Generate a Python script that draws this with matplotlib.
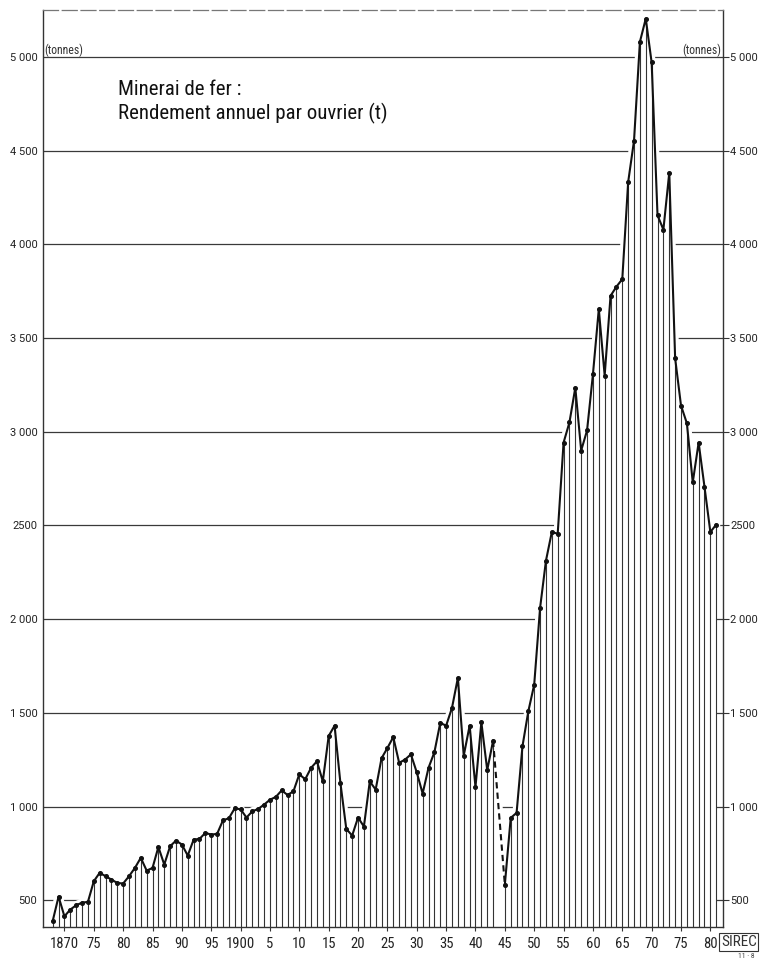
import numpy as np
import matplotlib
matplotlib.use("Agg")
import matplotlib.pyplot as plt
import matplotlib.font_manager as fm

# ---------------- data ----------------
years = list(range(1868, 1982))
values = [
    390, 520, 415, 451, 474, 488, 492, 602, 647, 629,          # 1868-1877
    611, 593, 590, 629, 673, 727, 659, 673, 785, 691,          # 1878-1887
    789, 819, 798, 739, 824, 828, 860, 851, 855, 927,          # 1888-1897
    938, 991, 986, 942, 975, 988, 1011, 1037, 1052, 1087,      # 1898-1907
    1062, 1082, 1173, 1146, 1207, 1242, 1135, 1377, 1432, 1126,  # 1908-1917
    881, 846, 942, 894, 1135, 1091, 1258, 1313, 1371, 1234,    # 1918-1927
    1251, 1279, 1183, 1070, 1207, 1290, 1447, 1432, 1527, 1687,  # 1928-1937
    1272, 1432, 1105, 1450, 1195, 1352, np.nan, 584, 940, 967,   # 1938-1947
    1322, 1509, 1651, 2060, 2312, 2465, 2456, 2942, 3050, 3235,  # 1948-1957
    2900, 3007, 3306, 3654, 3300, 3725, 3774, 3814, 4332, 4553,  # 1958-1967
    5080, 5204, 4970, 4155, 4078, 4382, 3392, 3140, 3045, 2730,  # 1968-1977
    2942, 2706, 2465, 2505,                                      # 1978-1981
]
ytick_vals = [500, 1000, 1500, 2000, 2500, 3000, 3500, 4000, 4500, 5000]
ytick_labels = ["500", "1 000", "1 500", "2 000", "2500", "3 000", "3 500", "4 000", "4 500", "5 000"]
xtick_vals = list(range(1870, 1985, 5))
xtick_labels = ["1870", "75", "80", "85", "90", "95", "1900", "5", "10", "15", "20", "25",
                "30", "35", "40", "45", "50", "55", "60", "65", "70", "75", "80"]
title_lines = ["Minerai de fer :", "Rendement annuel par ouvrier (t)"]
unit_label = "(tonnes)"

# ---------------- fonts ----------------
names = {f.name for f in fm.fontManager.ttflist}
font_kw = {}
for cand in ["Liberation Sans Narrow", "Roboto Condensed", "Open Sans Condensed", "Arial Narrow"]:
    if cand in names:
        font_kw = {"family": [cand, "DejaVu Sans"]}
        break
else:
    font_kw = {"family": ["DejaVu Sans"], "stretch": "condensed"}
plain_kw = {"family": ["Roboto", "DejaVu Sans"]}

yr = np.array(years, dtype=float)
val = np.array(values, dtype=float)
ok = ~np.isnan(val)

W, H = 763, 960
fig = plt.figure(figsize=(W / 100, H / 100), dpi=100)
fig.patch.set_facecolor("white")
L, R, T, B = 43, 722.7, 10, 927
ax = fig.add_axes([L / W, 1 - B / H, (R - L) / W, (B - T) / H])
ymin, ymax = 358, 5250
ax.set_xlim(1866.35, 1982.1)
ax.set_ylim(ymin, ymax)

# grid lines
for v in ytick_vals:
    ax.axhline(v, color="#3a3a3a", lw=0.9, zorder=1)

# hide grid under the curve
ax.fill_between(yr[ok], ymin, val[ok], color="white", zorder=2, lw=0)
ax.plot(yr[ok], val[ok], color="white", lw=6, zorder=2.5, solid_capstyle="round")

# hatching vertical lines
ax.vlines(yr[ok], ymin, val[ok], color="#333333", lw=0.8, zorder=3)

# curve: solid pieces, dashed across the gap
gap = np.where(~ok)[0]
segs = np.split(np.arange(len(yr)), gap)
for s in segs:
    s = s[ok[s]]
    ax.plot(yr[s], val[s], color="#111111", lw=1.5, zorder=4)
for g in gap:
    ax.plot([yr[g - 1], yr[g + 1]], [val[g - 1], val[g + 1]], color="#111111",
            lw=1.5, ls=(0, (3, 2)), zorder=4)
ax.plot(yr[ok], val[ok], "o", color="#111111", ms=2.6, zorder=5)

# spines
for sp in ["left", "bottom", "right"]:
    ax.spines[sp].set_color("#333333")
    ax.spines[sp].set_linewidth(1.0)
ax.spines["top"].set_color("#777777")
ax.spines["top"].set_linewidth(0.9)
ax.spines["top"].set_linestyle((0, (12, 3)))

# ticks
ax.set_xticks(xtick_vals)
ax.set_xticklabels(xtick_labels, fontsize=10.5, color="#222222", **font_kw)
ax.tick_params(axis="x", direction="out", length=3, width=0.8, pad=4, color="#333333")
ax.set_yticks(ytick_vals)
ax.set_yticklabels(ytick_labels, fontsize=8, color="#222222", **plain_kw)
ax.tick_params(axis="y", length=0, pad=4)

ax2 = ax.twinx()
ax2.set_ylim(ymin, ymax)
ax2.set_yticks(ytick_vals)
ax2.set_yticklabels(ytick_labels, fontsize=8, color="#222222", **plain_kw)
ax2.tick_params(axis="y", direction="out", length=4, width=0.8, pad=1.5, color="#333333")
for sp in ax2.spines.values():
    sp.set_visible(False)

# unit labels
ax.text(0.002, 5000, unit_label, transform=ax.get_yaxis_transform(), ha="left", va="bottom",
        fontsize=8.5, color="#333333", zorder=6, **font_kw)
ax.text(0.998, 5000, unit_label, transform=ax.get_yaxis_transform(), ha="right", va="bottom",
        fontsize=8.5, color="#333333", zorder=6, **font_kw)

# title
fig.text(118 / W, 1 - 95 / H, title_lines[0], fontsize=15, color="#111111", va="baseline", **font_kw)
fig.text(118 / W, 1 - 119 / H, title_lines[1], fontsize=15, color="#111111", va="baseline", **font_kw)

# logo in the corner
fig.text(721 / W, 1 - 946 / H, "SIREC", fontsize=11, color="#333333", va="baseline",
         bbox=dict(boxstyle="square,pad=0.1", fc="white", ec="#333333", lw=0.8), **font_kw)
fig.text(738 / W, 1 - 958 / H, "11 · 8", fontsize=5.5, color="#444444", va="baseline", **font_kw)

fig.savefig("out.png", dpi=100, facecolor="white")
